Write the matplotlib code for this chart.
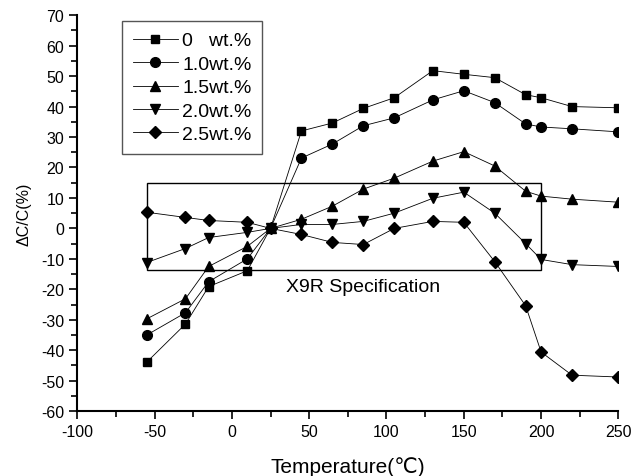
import numpy as np
import matplotlib
matplotlib.use('Agg')
import matplotlib.pyplot as plt
import matplotlib.patches as patches
from matplotlib.ticker import MultipleLocator

plt.rcParams['font.family'] = ['Liberation Sans', 'DejaVu Sans']
plt.rcParams['axes.unicode_minus'] = False

temps = [-55, -30, -15, 10, 25, 45, 65, 85, 105, 130, 150, 170, 190, 200, 220, 250]
wt0 = [-43.9, -31.4, -19.1, -13.9, 0, 32.0, 34.6, 39.4, 42.9, 51.8, 50.6, 49.5, 43.9, 42.9, 40.0, 39.6]
wt10 = [-35.0, -27.7, -17.5, -10.0, 0, 23.1, 27.7, 33.7, 36.3, 42.2, 45.2, 41.3, 34.3, 33.3, 32.7, 31.7]
wt15 = [-29.7, -23.1, -12.5, -5.9, 0, 3.0, 7.3, 12.9, 16.5, 22.1, 25.2, 20.5, 12.2, 10.6, 9.6, 8.6]
wt20 = [-11.2, -6.6, -3.0, -1.3, 0, 1.3, 1.3, 2.3, 5.0, 9.9, 11.9, 5.0, -5.0, -10.2, -11.9, -12.5]
wt25 = [5.3, 3.6, 2.6, 2.0, 0, -2.0, -4.6, -5.3, 0, 2.3, 2.0, -10.9, -25.4, -40.6, -48.2, -48.8]

series = [wt0, wt10, wt15, wt20, wt25]
labels = ['0   wt.%', '1.0wt.%', '1.5wt.%', '2.0wt.%', '2.5wt.%']
markers = ['s', 'o', '^', 'v', 'D']
sizes = [6, 7, 7, 7, 6]

# X9R window
spec_x = (-55, 200)
spec_y = (-13.8, 15)

fig = plt.figure(figsize=(6.33, 4.77), dpi=100)
ax = fig.add_axes([0.122, 0.136, 0.855, 0.830])

for ys, lab, m, s in zip(series, labels, markers, sizes):
    ax.plot(temps, ys, color='black', lw=0.6, marker=m, markersize=s,
            markerfacecolor='black', markeredgecolor='black', label=lab)

ax.add_patch(patches.Rectangle((spec_x[0], spec_y[0]), spec_x[1] - spec_x[0],
                               spec_y[1] - spec_y[0], fill=False,
                               edgecolor='black', lw=1.0, zorder=1))
ax.text(85, -19, 'X9R Specification', ha='center', va='center', fontsize=14)

ax.set_xlim(-100, 250)
ax.set_ylim(-60, 70)
ax.xaxis.set_major_locator(MultipleLocator(50))
ax.xaxis.set_minor_locator(MultipleLocator(25))
ax.yaxis.set_major_locator(MultipleLocator(10))
ax.yaxis.set_minor_locator(MultipleLocator(5))
ax.tick_params(which='major', direction='out', length=6, width=1.2, labelsize=11.5)
ax.tick_params(which='minor', direction='out', length=4, width=1.2)

for side in ['top', 'right']:
    ax.spines[side].set_visible(False)
for side in ['left', 'bottom']:
    ax.spines[side].set_linewidth(1.5)

ax.set_xlabel('Temperature(℃)', fontsize=15, labelpad=12)
ax.set_ylabel('ΔC/C(%)', fontsize=11.5, labelpad=7)

leg = ax.legend(loc='upper left', bbox_to_anchor=(0.083, 0.985), borderaxespad=0,
                fontsize=14, handlelength=2.3, fancybox=False, framealpha=1,
                edgecolor='#555555', labelspacing=0.3, handletextpad=0.25,
                borderpad=0.55)
leg.get_frame().set_linewidth(1.0)

fig.savefig('out.png', dpi=100)
